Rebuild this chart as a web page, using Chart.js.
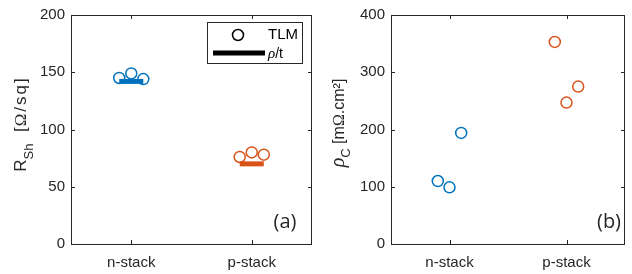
<!DOCTYPE html>
<html>
<head>
<meta charset="utf-8">
<script src="https://cdn.jsdelivr.net/npm/chart.js@4.4.1/dist/chart.umd.min.js"></script>
<style>
  html, body { margin: 0; padding: 0; background: #fff; }
  canvas { position: absolute; top: 0; }
</style>
</head>
<body>
<canvas id="left" width="320" height="274" style="left:0"></canvas>
<canvas id="right" width="312" height="274" style="left:320px"></canvas>
<script>
// data
const categories = ['n-stack', 'p-stack'];
const jitter = [-0.1, 0, 0.1];
const rshTLM_n = [145, 149, 144];
const rshTLM_p = [76, 80, 78];
const rshRhoT = [142, 70];
const rhoC_n = [110, 99, 194];
const rhoC_p = [353, 247, 275];
const rshTicks = [0, 50, 100, 150, 200];
const rhoTicks = [0, 100, 200, 300, 400];
const colors = ['#0072BD', '#D95319'];

const ink = '#262626';
const font = '"Liberation Sans", Arial, sans-serif';
const serif = '"Liberation Serif", "DejaVu Serif", serif';

function pts(i, vals) {
  return vals.map((v, k) => ({ x: i + 1 + jitter[k], y: v }));
}

function tlmSet(i, vals) {
  return {
    type: 'scatter', data: pts(i, vals),
    borderColor: colors[i], backgroundColor: 'rgba(0,0,0,0)',
    pointRadius: 5.5, pointBorderWidth: 1.5, pointStyle: 'circle'
  };
}

function barSet(i, v) {
  return {
    type: 'line', data: [{ x: i + 0.9, y: v }, { x: i + 1.1, y: v }],
    borderColor: colors[i], borderWidth: 5, pointRadius: 0, order: 5
  };
}

// box, inward ticks, panel tag, y title
const framePlugin = {
  id: 'frame',
  afterDraw(chart, args, o) {
    const c = chart.ctx, a = chart.chartArea;
    const xs = chart.scales.x, ys = chart.scales.y;
    c.save();
    c.strokeStyle = ink; c.lineWidth = 1;
    c.strokeRect(a.left + 0.5, a.top + 0.5, a.right - a.left - 1, a.bottom - a.top);
    c.beginPath();
    o.yTicks.forEach(v => {
      const y = Math.round(ys.getPixelForValue(v)) + 0.5;
      c.moveTo(a.left, y); c.lineTo(a.left + 4, y);
      c.moveTo(a.right, y); c.lineTo(a.right - 4, y);
    });
    categories.forEach((t, i) => {
      const x = Math.round(xs.getPixelForValue(i + 1)) + 0.5;
      c.moveTo(x, a.bottom); c.lineTo(x, a.bottom - 4);
      c.moveTo(x, a.top); c.lineTo(x, a.top + 4);
    });
    c.stroke();

    // panel tag
    c.fillStyle = ink;
    c.font = '20px "Open Sans", sans-serif';
    c.textAlign = 'center'; c.textBaseline = 'middle';
    c.fillText(o.tag, o.tagX, 222);

    // rotated y title, pieces: {t, size, dy, fam, sp, it}
    c.translate(o.titleX, o.titleY);
    c.rotate(-Math.PI / 2);
    c.textAlign = 'left'; c.textBaseline = 'alphabetic';
    const setF = p => {
      c.font = (p.it ? 'italic ' : '') + p.size + 'px ' + (p.fam || font);
      c.letterSpacing = (p.sp || 0) + 'px';
    };
    let w = 0;
    o.title.forEach(p => { setF(p); w += c.measureText(p.t).width; });
    let x = -w / 2;
    o.title.forEach(p => {
      setF(p);
      c.fillText(p.t, x, p.dy || 0);
      x += c.measureText(p.t).width;
    });
    c.letterSpacing = '0px';
    c.restore();

    if (o.legend) {
      c.save();
      c.strokeStyle = ink; c.lineWidth = 1;
      c.strokeRect(207.5, 22.5, 95, 41);
      c.strokeStyle = '#000'; c.lineWidth = 1.5;
      c.beginPath(); c.arc(238, 35, 5.5, 0, Math.PI * 2); c.stroke();
      c.lineWidth = 5;
      c.beginPath(); c.moveTo(213, 53); c.lineTo(265, 53); c.stroke();
      c.fillStyle = '#000';
      c.textAlign = 'left';
      c.textBaseline = 'middle';
      c.font = '15px ' + font;
      c.fillText('TLM', 268, 35);
      c.textBaseline = 'alphabetic';
      c.font = 'italic 15px ' + serif;
      c.fillText('ρ', 268, 58);
      const rw = c.measureText('ρ').width;
      c.font = '14px ' + font;
      c.fillText('/t', 268 + rw, 58);
      c.restore();
    }
  }
};

function makeChart(id, datasets, yMax, yTicks, frameOpts) {
  return new Chart(document.getElementById(id), {
    data: { datasets: datasets },
    options: {
      responsive: false, animation: false, devicePixelRatio: 1,
      layout: { padding: { top: 12, right: frameOpts.padRight, left: 0, bottom: 0 } },
      plugins: { legend: { display: false }, tooltip: { enabled: false }, frame: frameOpts },
      scales: {
        x: {
          type: 'linear', min: 0.5, max: 2.5,
          grid: { display: false, drawTicks: false }, border: { display: false },
          afterBuildTicks: s => { s.ticks = categories.map((c, i) => ({ value: i + 1 })); },
          afterFit: s => { s.height = 30; },
          ticks: {
            padding: 10, color: ink, font: { family: font, size: 15 },
            callback: v => categories[v - 1]
          }
        },
        y: {
          min: 0, max: yMax,
          grid: { display: false, drawTicks: false }, border: { display: false },
          afterBuildTicks: s => { s.ticks = yTicks.map(v => ({ value: v })); },
          afterFit: s => { s.width = 71; },
          ticks: { padding: 6, color: ink, font: { family: font, size: 15 } }
        }
      }
    },
    plugins: [framePlugin]
  });
}

makeChart('left', [
  tlmSet(0, rshTLM_n), tlmSet(1, rshTLM_p),
  barSet(0, rshRhoT[0]), barSet(1, rshRhoT[1])
], 200, rshTicks, {
  yTicks: rshTicks, tag: '(a)', tagX: 285, titleX: 26, titleY: 124, padRight: 8, legend: true,
  title: [
    { t: 'R', size: 17 }, { t: 'Sh', size: 13, dy: 7 }, { t: '  [', size: 17, sp: 1 },
    { t: 'Ω', size: 17, fam: serif, sp: 2 }, { t: '/sq]', size: 17, sp: 2 }
  ]
});

makeChart('right', [
  tlmSet(0, rhoC_n), tlmSet(1, rhoC_p)
], 400, rhoTicks, {
  yTicks: rhoTicks, tag: '(b)', tagX: 289, titleX: 24, titleY: 123, padRight: 1, legend: false,
  title: [
    { t: 'ρ', size: 20, fam: serif, it: true }, { t: 'C', size: 13, dy: 6 },
    { t: ' [m', size: 16 }, { t: 'Ω', size: 16, fam: serif }, { t: '.cm²]', size: 16 }
  ]
});
</script>
</body>
</html>
